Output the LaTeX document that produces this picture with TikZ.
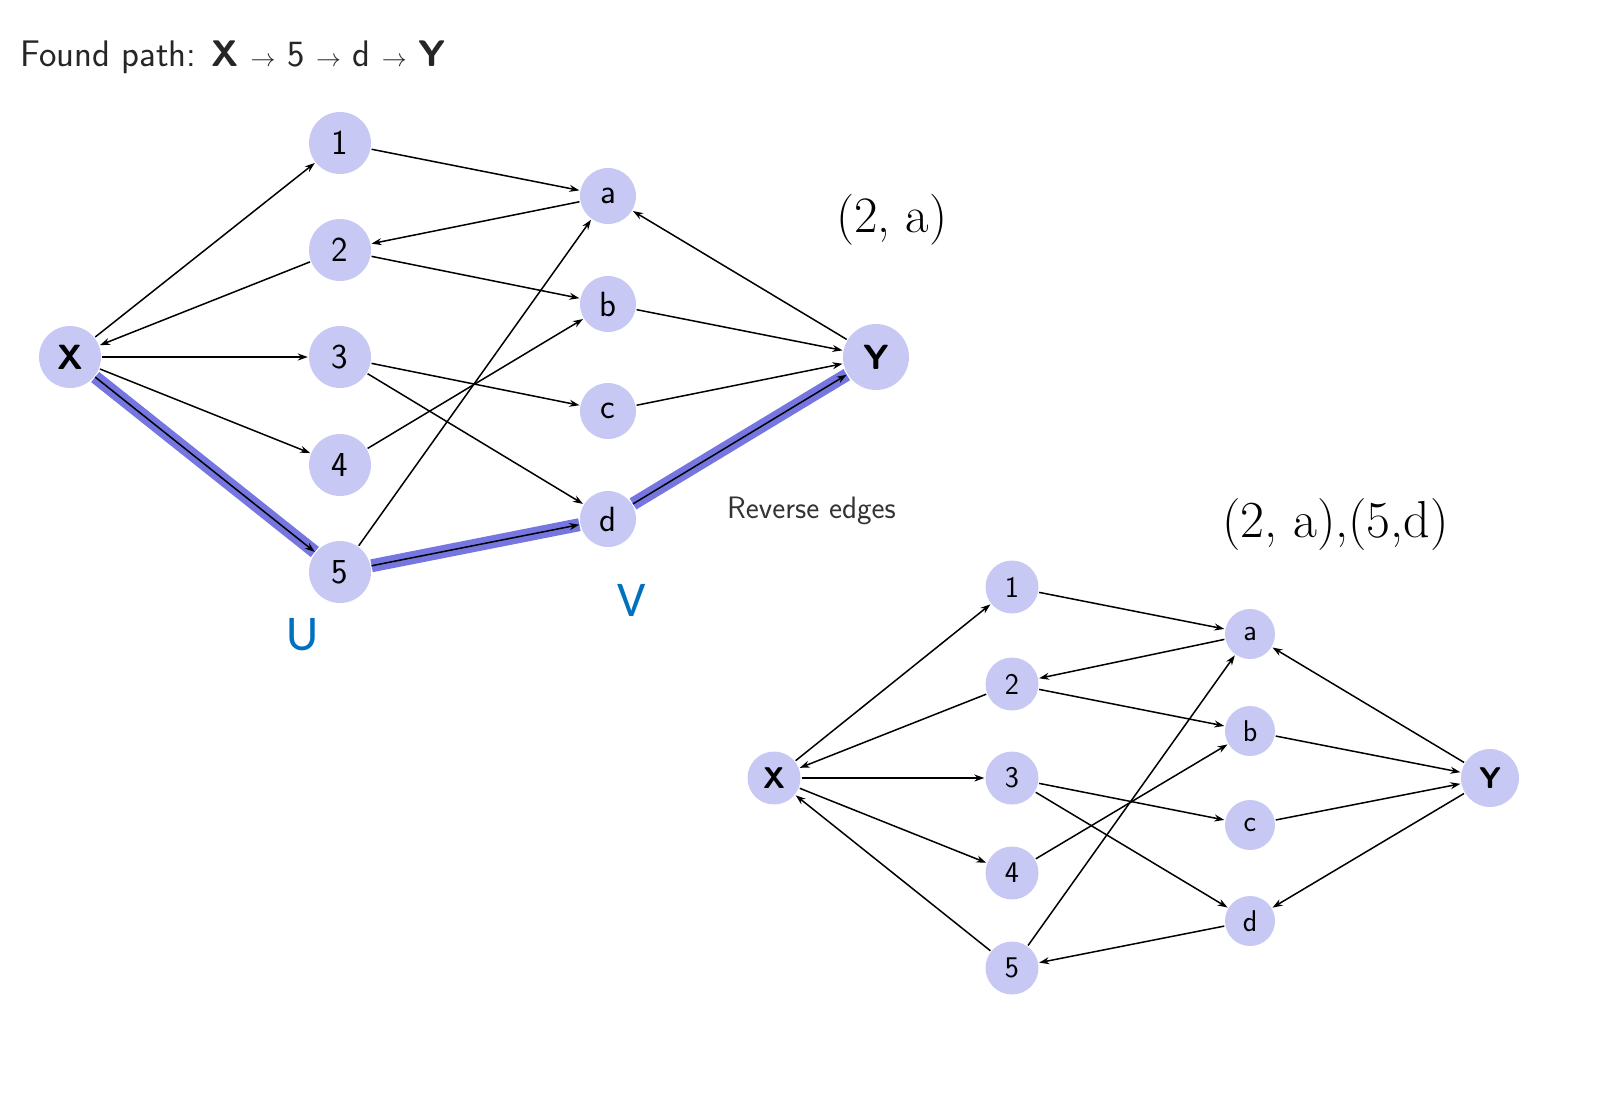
\documentclass[tikz,border=0pt]{standalone}
\usepackage{fontspec}
\newfontfamily\calib{Carlito}
\usetikzlibrary{arrows.meta}
\definecolor{vfill}{RGB}{200,200,245}
\definecolor{hl}{RGB}{118,118,225}
\definecolor{ublue}{RGB}{0,112,192}
\tikzset{
  vtop/.style={circle,fill=vfill,minimum size=62pt,inner sep=0pt,font=\sffamily\fontsize{35}{37}\selectfont},
  vbot/.style={circle,fill=vfill,minimum size=53pt,inner sep=0pt,font=\sffamily\fontsize{30}{32}\selectfont},
  arr/.style={-{Stealth[length=10pt,width=7pt]},line width=1.5pt,shorten >=1pt,shorten <=1pt},
  hlband/.style={line width=13pt,hl,shorten >=1pt,shorten <=1pt},
  lbl/.style={inner sep=0pt,anchor=base west},
}
\begin{document}
\begin{tikzpicture}[x=1pt,y=-1pt]
\useasboundingbox (0,0) rectangle (1602,1104);
% ---------- top graph ----------
\node[vtop] (tX) at (70,357) {\textbf{X}};
\node[vtop] (t1) at (340,143) {1};
\node[vtop] (t2) at (340,250) {2};
\node[vtop] (t3) at (340,357) {3};
\node[vtop] (t4) at (340,465) {4};
\node[vtop] (t5) at (340,572) {5};
\node[vtop,minimum size=56pt] (ta) at (608,196) {a};
\node[vtop,minimum size=56pt] (tb) at (608,304) {b};
\node[vtop,minimum size=56pt] (tc) at (608,411) {c};
\node[vtop,minimum size=56pt] (td) at (608,519) {d};
\node[vtop,minimum size=66pt] (tY) at (876,357) {\textbf{Y}};
% highlighted path
\draw[hlband] (tX) -- (t5);
\draw[hlband] (t5) -- (td);
\draw[hlband] (td) -- (tY);
\draw[arr] (tX) -- (t1);
\draw[arr] (t1) -- (ta);
\draw[arr] (ta) -- (t2);
\draw[arr] (t2) -- (tX);
\draw[arr] (t2) -- (tb);
\draw[arr] (tX) -- (t3);
\draw[arr] (t3) -- (tc);
\draw[arr] (t3) -- (td);
\draw[arr] (tX) -- (t4);
\draw[arr] (t4) -- (tb);
\draw[arr] (tX) -- (t5);
\draw[arr] (t5) -- (ta);
\draw[arr] (t5) -- (td);
\draw[arr] (tb) -- (tY);
\draw[arr] (tc) -- (tY);
\draw[arr] (td) -- (tY);
\draw[arr] (tY) -- (ta);
% ---------- bottom graph ----------
\node[vbot] (bX) at (774,778) {\textbf{X}};
\node[vbot] (b1) at (1012,587) {1};
\node[vbot] (b2) at (1012,684) {2};
\node[vbot] (b3) at (1012,778) {3};
\node[vbot] (b4) at (1012,873) {4};
\node[vbot] (b5) at (1012,968) {5};
\node[vbot,minimum size=50pt] (ba) at (1250,634) {a};
\node[vbot,minimum size=50pt] (bb) at (1250,731) {b};
\node[vbot,minimum size=50pt] (bc) at (1250,825) {c};
\node[vbot,minimum size=50pt] (bd) at (1250,921) {d};
\node[vbot,minimum size=58pt] (bY) at (1490,778) {\textbf{Y}};
\draw[arr] (bX) -- (b1);
\draw[arr] (b1) -- (ba);
\draw[arr] (ba) -- (b2);
\draw[arr] (b2) -- (bX);
\draw[arr] (b2) -- (bb);
\draw[arr] (bX) -- (b3);
\draw[arr] (b3) -- (bc);
\draw[arr] (b3) -- (bd);
\draw[arr] (bX) -- (b4);
\draw[arr] (b4) -- (bb);
\draw[arr] (b5) -- (bX);
\draw[arr] (b5) -- (ba);
\draw[arr] (bd) -- (b5);
\draw[arr] (bb) -- (bY);
\draw[arr] (bc) -- (bY);
\draw[arr] (bY) -- (bd);
\draw[arr] (bY) -- (ba);
% ---------- texts ----------
\node[lbl,font=\sffamily\fontsize{37}{39}\selectfont,text=black!85] (found) at (20,66)
  {Found path: \textbf{X} $\rightarrow$ 5 $\rightarrow$ d $\rightarrow$ \textbf{Y}};
\node[lbl,font=\sffamily\fontsize{31}{33}\selectfont,text=black!80] (rev) at (727,518) {Reverse edges};
\node[lbl,font=\fontsize{51}{53}\selectfont] (pa) at (836,232) {(2, a)};
\node[lbl,font=\fontsize{52}{54}\selectfont] (pb) at (1222,537) {(2, a),(5,d)};
\node[inner sep=0pt,anchor=base,font=\calib\fontsize{50}{52}\selectfont,text=ublue] (U) at (303,650) {U};
\node[inner sep=0pt,anchor=base,font=\calib\fontsize{50}{52}\selectfont,text=ublue] (V) at (632,616) {V};
\end{tikzpicture}
\end{document}
